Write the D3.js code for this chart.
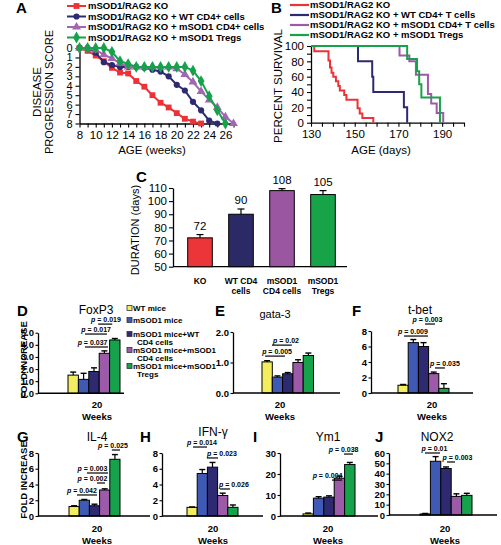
<!DOCTYPE html>
<html><head><meta charset="utf-8">
<script src="https://cdn.jsdelivr.net/npm/d3@7"></script>
<style>
body{margin:0;background:#fff}
svg{display:block}
text{font-family:"Liberation Sans",Arial,sans-serif;fill:#000}
</style>
</head><body>
<svg id="chart" width="501" height="545"></svg>
<script>
// ---------------- DATA ----------------
// Panel A: disease progression score by age (weeks)
const seriesNamesA = ["mSOD1/RAG2 KO","mSOD1/RAG2 KO + WT CD4+ cells","mSOD1/RAG2 KO + mSOD1 CD4+ cells","mSOD1/RAG2 KO + mSOD1 Tregs"];
const weeksKO   = [8,9,10,11,12,13,14,15,16,17,18,19,20,21,22,23];
const scoreKO   = [0,0.3,0.8,1.4,2.1,2.6,2.7,3.5,4.1,5.0,5.8,6.3,6.9,7.5,7.8,8];
const weeksWT   = [8,9,10,11,12,13,14,15,16,17,18,19,20,21,22,23,24,25];
const scoreWT   = [0,0,0.5,1.5,1.8,2,2,2,2.1,2.3,2.5,3.0,3.9,4.5,5.7,6.6,7.7,8];
const weeksCD4  = [8,9,10,11,12,13,14,15,16,17,18,19,20,21,22,23,24,25,26,27];
const scoreCD4  = [0,0,0.2,0.7,1.1,1.6,2,2,2,2,2,2,2.2,2.8,3.6,4.6,5.5,6.3,7.3,8];
const weeksTreg = [8,9,10,11,12,13,14,15,16,17,18,19,20,21,22,23,24,25,26];
const scoreTreg = [0,0,0,0,0.4,1.4,1.7,2,2,2,2,2,2,2,2.4,3.5,5.1,6.6,8];
const ticksAx = [8,10,12,14,16,18,20,22,24,26];
const ticksAy = [0,1,2,3,4,5,6,7,8];

// Panel B: Kaplan-Meier survival (event day, % surviving after)
const seriesNamesB = ["mSOD1/RAG2 KO","mSOD1/RAG2 KO + WT CD4+ T cells","mSOD1/RAG2 KO + mSOD1 CD4+ T cells","mSOD1/RAG2 KO + mSOD1 Tregs"];
const survDaysKO   = [131.5,138,138.7,139.4,140.2,141.4,142.5,143.2,145.2,146.2,151.3,152.3,153.5,158.5];
const survPctKO    = [93,81,72,65,60,54,48,42,36,30,19,12,6,0];
const survDaysWT   = [151.5,158,158.5,172.5,174];
const survPctWT    = [80,60,40,20,0];
const survDaysCD4  = [170.5,175,178,183.5,185,187.5,190.5];
const survPctCD4   = [87.5,80,62.5,37.5,25,12.5,0];
const survDaysTreg = [174,178.5,179.5,180.5,189];
const survPctTreg  = [83,67,50,33,0];
const ticksBx = [130,150,170,190];
const ticksBy = [0,20,40,60,80,100];

// Panel C: duration (days)
const catsC  = [["KO"],["WT CD4","cells"],["mSOD1","CD4 cells"],["mSOD1","Tregs"]];
const valsC  = [72,90,108,105];
const errsC  = [2.5,4,1.5,3];
const ticksC = [50,60,70,80,90,100,110];

// Panels D-J: fold increase at 20 weeks
const groupsDJ = ["WT mice","mSOD1 mice","mSOD1 mice+WT CD4 cells","mSOD1 mice+mSOD1 CD4 cells","mSOD1 mice+mSOD1 Tregs"];
const legendLines = [["WT mice"],["mSOD1 mice"],["mSOD1 mice+WT","CD4 cells"],["mSOD1 mice+mSOD1","CD4 cells"],["mSOD1 mice+mSOD1","Tregs"]];
const foxp3Vals = [1.5,1.15,1.8,3.3,4.4],    foxp3Errs = [0.25,0.5,0.3,0.2,0.12];
const gata3Vals = [1.02,0.52,0.63,1.0,1.23], gata3Errs = [0.04,0.04,0.04,0.09,0.08];
const tbetVals  = [1.0,6.5,6.0,2.5,0.6],     tbetErrs  = [0.1,0.4,0.5,0.2,0.6];
const il4Vals   = [1.2,2.0,1.3,3.3,7.2],     il4Errs   = [0.1,0.1,0.2,0.15,0.6];
const ifngVals  = [1.1,5.4,6.2,2.6,1.1],     ifngErrs  = [0.05,0.5,0.6,0.3,0.3];
const ym1Vals   = [1.0,8.5,9.0,18,24.5],     ym1Errs   = [0.4,0.7,0.6,1,1];
const nox2Vals  = [1,52,45,18,19],           nox2Errs  = [0.5,4.5,1.5,2.5,2];
const pFoxp3 = ["0.019","0.017","0.037"];
const pGata3 = ["0.02","0.005"];
const pTbet  = ["0.003","0.009","0.035"];
const pIl4   = ["0.025","0.003","0.002","0.042"];
const pIfng  = ["0.014","0.023","0.026"];
const pYm1   = ["0.038","0.004"];
const pNox2  = ["0.01","0.003"];

// ---------------- STYLE ----------------
const col = {red:"#ec3237", navy:"#2e2a72", purple:"#9c5aa8", lav:"#a266b2", green:"#16a24b",
             yellow:"#f2ee5f", blue:"#3e5ab4", cRed:"#ec3538", cNavy:"#2c2a66", cPurple:"#9b56a2", cGreen:"#17a449"};
const barCols = [col.yellow,col.blue,col.navy,col.purple,col.green];
const SANS = '"Liberation Sans",Arial,sans-serif';
const SERIF = '"Liberation Serif","Times New Roman",serif';

const svg = d3.select("#chart");

function styleAxis(g, size, weight){
  g.selectAll("path.domain").attr("stroke","#000").attr("stroke-width",1.3);
  g.selectAll(".tick line").attr("stroke","#000").attr("stroke-width",1.1);
  g.selectAll(".tick text").attr("font-family",SANS).attr("font-size",size).attr("font-weight",weight).attr("fill","#000");
  g.attr("font-family",null).attr("font-size",null);
}
function letter(x,y,t){
  svg.append("text").attr("x",x).attr("y",y).attr("font-size",15).attr("font-weight","bold").text(t);
}

// ---------------- PANEL A ----------------
(function(){
  const xA = d3.scaleLinear().domain([8,27]).range([79.5,233.5]);
  const yA = d3.scaleLinear().domain([0,8]).range([48,123.5]);
  svg.append("text").attr("transform","translate(41,92) rotate(-90)").attr("text-anchor","middle")
     .attr("font-size",11.5).text("DISEASE");
  svg.append("text").attr("transform","translate(53,92) rotate(-90)").attr("text-anchor","middle")
     .attr("font-size",11).text("PROGRESSION SCORE");
  const gy = svg.append("g").attr("transform",`translate(${xA(8)},0)`)
    .call(d3.axisLeft(yA).tickValues(ticksAy).tickSize(4).tickSizeOuter(0).tickPadding(3));
  styleAxis(gy,11,"normal");
  const gx = svg.append("g").attr("transform",`translate(0,${yA(8)})`)
    .call(d3.axisBottom(xA).tickValues(d3.range(8,28)).tickFormat(d=>ticksAx.includes(d)?d:"").tickSize(4).tickSizeOuter(0).tickPadding(3));
  styleAxis(gx,11.5,"normal");
  svg.append("text").attr("x",152).attr("y",154).attr("text-anchor","middle").attr("font-size",11.5).text("AGE (weeks)");

  const series = [
    {w:weeksKO, s:scoreKO, c:col.red, sym:d3.symbolSquare, sz:34},
    {w:weeksWT, s:scoreWT, c:col.navy, sym:d3.symbolCircle, sz:30},
    {w:weeksCD4, s:scoreCD4, c:col.lav, sym:d3.symbolTriangle, sz:34},
    {w:weeksTreg, s:scoreTreg, c:col.green, sym:d3.symbolDiamond, sz:40}
  ];
  const line = d3.line().x(d=>xA(d[0])).y(d=>yA(d[1]));
  series.forEach(se=>{
    const pts = se.w.map((w,i)=>[w,se.s[i]]);
    svg.append("path").attr("d",line(pts)).attr("fill","none").attr("stroke",se.c).attr("stroke-width",2);
    svg.selectAll(null).data(pts).enter().append("path")
      .attr("transform",d=>`translate(${xA(d[0])},${yA(d[1])})`)
      .attr("d",d3.symbol(se.sym,se.sz)()).attr("fill",se.c);
  });
  const rows=[6,16.5,27,37.5];
  series.forEach((se,i)=>{
    svg.append("line").attr("x1",67).attr("x2",86).attr("y1",rows[i]).attr("y2",rows[i]).attr("stroke",se.c).attr("stroke-width",2);
    svg.append("path").attr("transform",`translate(76.5,${rows[i]})`).attr("d",d3.symbol(se.sym,se.sz)()).attr("fill",se.c);
    svg.append("text").attr("x",88).attr("y",rows[i]).attr("dy","0.36em").attr("font-size",9.5).attr("font-weight","bold").text(seriesNamesA[i]);
  });
  letter(16,13,"A");
})();

// ---------------- PANEL B ----------------
(function(){
  const xB = d3.scaleLinear().domain([130,200]).range([311,464]);
  const yB = d3.scaleLinear().domain([0,100]).range([122.7,46]);
  svg.append("text").attr("transform","translate(282,86) rotate(-90)").attr("text-anchor","middle")
     .attr("font-size",11.5).text("PERCENT SURVIVAL");
  const gy = svg.append("g").attr("transform",`translate(${xB(130)},0)`)
    .call(d3.axisLeft(yB).tickValues(d3.range(0,101,10)).tickFormat(d=>ticksBy.includes(d)?d:"").tickSize(4).tickSizeOuter(0).tickPadding(3));
  styleAxis(gy,11.5,"normal");
  const gx = svg.append("g").attr("transform",`translate(0,${yB(0)})`)
    .call(d3.axisBottom(xB).tickValues(d3.range(130,201,5)).tickFormat(d=>ticksBx.includes(d)?d:"").tickSize(4).tickSizeOuter(0).tickPadding(3));
  styleAxis(gx,11.5,"normal");
  svg.append("text").attr("x",381).attr("y",154).attr("text-anchor","middle").attr("font-size",11.5).text("AGE (days)");
  const step = d3.line().x(d=>xB(d[0])).y(d=>yB(d[1])).curve(d3.curveStepAfter);
  const series = [
    {d:survDaysWT, p:survPctWT, c:col.navy},
    {d:survDaysCD4, p:survPctCD4, c:col.purple},
    {d:survDaysKO, p:survPctKO, c:col.red},
    {d:survDaysTreg, p:survPctTreg, c:col.green}
  ];
  series.forEach(se=>{
    const pts=[[130,100]].concat(se.d.map((d,i)=>[d,se.p[i]]));
    svg.append("path").attr("d",step(pts)).attr("fill","none").attr("stroke",se.c).attr("stroke-width",2);
  });
  const legCols=[col.red,col.navy,col.purple,col.green];
  const rows=[5,15,25,35];
  legCols.forEach((c,i)=>{
    svg.append("line").attr("x1",290).attr("x2",309).attr("y1",rows[i]).attr("y2",rows[i]).attr("stroke",c).attr("stroke-width",2.2);
    svg.append("text").attr("x",310).attr("y",rows[i]).attr("dy","0.36em").attr("font-size",9.5).attr("font-weight","bold").text(seriesNamesB[i]);
  });
  letter(271,13,"B");
})();

// ---------------- PANEL C ----------------
(function(){
  const xC = d3.scaleBand().domain(d3.range(catsC.length)).range([179.5,343.5]).paddingInner(0.4).paddingOuter(0.2);
  const yC = d3.scaleLinear().domain([50,110]).range([266.7,188]);
  const cCols=[col.cRed,col.cNavy,col.cPurple,col.cGreen];
  svg.append("text").attr("transform","translate(139,230) rotate(-90)").attr("text-anchor","middle")
     .attr("font-size",11).text("DURATION (days)");
  const gy = svg.append("g").attr("transform","translate(173,0)")
    .call(d3.axisLeft(yC).tickValues(ticksC).tickSize(4).tickSizeOuter(0).tickPadding(2));
  styleAxis(gy,11.5,"normal");
  svg.append("line").attr("x1",173).attr("x2",347).attr("y1",yC(50)).attr("y2",yC(50)).attr("stroke","#000").attr("stroke-width",1.3);
  valsC.forEach((v,i)=>{
    const x=xC(i), w=xC.bandwidth(), cx=x+w/2;
    svg.append("rect").attr("x",x).attr("y",yC(v)).attr("width",w).attr("height",yC(50)-yC(v))
      .attr("fill",cCols[i]).attr("stroke","#000").attr("stroke-width",1);
    const et=yC(v+errsC[i]);
    svg.append("line").attr("x1",cx).attr("x2",cx).attr("y1",yC(v)).attr("y2",et).attr("stroke","#000").attr("stroke-width",1.2);
    svg.append("line").attr("x1",cx-3.5).attr("x2",cx+3.5).attr("y1",et).attr("y2",et).attr("stroke","#000").attr("stroke-width",1.2);
    svg.append("text").attr("x",cx).attr("y",et-5).attr("text-anchor","middle").attr("font-size",11.5).text(v);
    catsC[i].forEach((t,k)=>{
      svg.append("text").attr("x",cx).attr("y",284+k*10).attr("text-anchor","middle").attr("font-size",8.5).attr("font-weight","bold").text(t);
    });
  });
  letter(136,182,"C");
})();

// ---------------- PANELS D-J ----------------
function barPanel(cfg){
  const x = d3.scaleBand().domain(groupsDJ).range([cfg.gx, cfg.gx+5*cfg.bw]).padding(0);
  const xi = d3.scaleLinear().domain([0,5]).range(x.range());
  const y = d3.scaleLinear().domain([0,cfg.max]).range([cfg.y0,cfg.yTop]);
  const gy = svg.append("g").attr("transform",`translate(${cfg.ax},0)`)
    .call(d3.axisLeft(y).tickValues(d3.range(0,cfg.max+0.001,cfg.step)).tickSize(2.5).tickSizeOuter(0).tickPadding(1.5));
  styleAxis(gy,9.5,"bold");
  cfg.vals.forEach((v,i)=>{
    const bx=x(groupsDJ[i]), w=x.bandwidth(), cx=bx+w/2;
    svg.append("rect").attr("x",bx).attr("y",y(v)).attr("width",w).attr("height",cfg.y0-y(v))
      .attr("fill",barCols[i]).attr("stroke","#000").attr("stroke-width",1);
    const et=y(v+cfg.errs[i]);
    svg.append("line").attr("x1",cx).attr("x2",cx).attr("y1",y(v)).attr("y2",et).attr("stroke","#000").attr("stroke-width",1.2);
    svg.append("line").attr("x1",cx-3).attr("x2",cx+3).attr("y1",et).attr("y2",et).attr("stroke","#000").attr("stroke-width",1.4);
  });
  svg.append("line").attr("x1",cfg.ax).attr("x2",cfg.axEnd).attr("y1",cfg.y0).attr("y2",cfg.y0).attr("stroke","#000").attr("stroke-width",1.4);
  cfg.p.forEach((lab,k)=>{
    const a=cfg.pl[k];
    const ly=y(a.y);
    svg.append("line").attr("x1",xi(a.a)).attr("x2",xi(a.b)).attr("y1",ly).attr("y2",ly).attr("stroke","#000").attr("stroke-width",1.2);
    const t=svg.append("text").attr("x",xi(a.tc)).attr("y",ly-2.2).attr("text-anchor","middle")
      .attr("font-family",SERIF).attr("font-size",7).attr("font-weight","bold");
    t.append("tspan").attr("font-style","italic").text("p");
    t.append("tspan").text(" = "+lab);
  });
  svg.append("text").attr("x",cfg.tx).attr("y",cfg.ty).attr("text-anchor","middle").attr("font-size",cfg.tfs||12).text(cfg.title);
  svg.append("text").attr("x",cfg.wx).attr("y",cfg.wy).attr("text-anchor","middle").attr("font-size",9.5).attr("font-weight","bold").text("20");
  svg.append("text").attr("x",cfg.wx).attr("y",cfg.wy+11.5).attr("text-anchor","middle").attr("font-size",9.5).attr("font-weight","bold").text("Weeks");
  letter(cfg.lx,cfg.ly,cfg.letter);
}

barPanel({letter:"D",lx:17,ly:316,title:"FoxP3",tx:96,ty:314,vals:foxp3Vals,errs:foxp3Errs,max:5,step:1,
  ax:38,axEnd:124,yTop:332.7,y0:393.3,gx:68,bw:10.4,wx:97,wy:408,p:pFoxp3,
  pl:[{tc:3.65,a:2.9,b:4.25,y:5.71},{tc:2.7,a:1.63,b:3.75,y:4.89},{tc:2.36,a:1.63,b:3.85,y:3.82}]});
barPanel({letter:"E",lx:215,ly:316,title:"gata-3",tfs:11,tx:275,ty:318,vals:gata3Vals,errs:gata3Errs,max:2,step:1,
  ax:233,axEnd:340,yTop:332,y0:393,gx:262,bw:10.3,wx:280,wy:408,p:pGata3,
  pl:[{tc:2.33,a:0.97,b:2.9,y:1.57},{tc:1.46,a:0.3,b:2.23,y:1.21}]});
barPanel({letter:"F",lx:352,ly:316,title:"t-bet",tx:420,ty:314,vals:tbetVals,errs:tbetErrs,max:8,step:2,
  ax:371,axEnd:473,yTop:331,y0:393,gx:398,bw:10.2,wx:432,wy:408,p:pTbet,
  pl:[{tc:2.89,a:2.65,b:3.63,y:8.9},{tc:1.47,a:0.59,b:2.94,y:7.35},{tc:4.6,a:3.63,b:4.6,y:3.23}]});
barPanel({letter:"G",lx:17,ly:442,title:"IL-4",tx:97,ty:441,vals:il4Vals,errs:il4Errs,max:8,step:2,
  ax:38,axEnd:150,yTop:453,y0:516,gx:69,bw:10.2,wx:97,wy:532,p:pIl4,
  pl:[{tc:4.31,a:4.2,b:5.0,y:8.38},{tc:2.3,a:1.76,b:3.82,y:5.46},{tc:2.3,a:2.75,b:3.53,y:4.19},{tc:1.27,a:0.78,b:2.75,y:2.67}]});
barPanel({letter:"H",lx:140,ly:442,title:"IFN-γ",tx:213,ty:436,vals:ifngVals,errs:ifngErrs,max:8,step:2,
  ax:162,axEnd:263,yTop:453,y0:516,gx:187,bw:10.2,wx:213,wy:532,p:pIfng,
  pl:[{tc:1.47,a:0.59,b:1.96,y:8.76},{tc:3.43,a:1.96,b:3.04,y:7.37},{tc:4.6,a:3.24,b:4.22,y:3.43}]});
barPanel({letter:"I",lx:253,ly:442,title:"Ym1",tx:328,ty:441,vals:ym1Vals,errs:ym1Errs,max:30,step:10,
  ax:280,axEnd:378,yTop:453,y0:516,gx:303,bw:10.4,wx:328,wy:532,p:pYm1,
  pl:[{tc:3.9,a:3.94,b:4.8,y:29.5},{tc:2.36,a:2.79,b:3.75,y:17.1}]});
barPanel({letter:"J",lx:375,ly:442,title:"NOX2",tx:437,ty:441,vals:nox2Vals,errs:nox2Errs,max:60,step:10,
  ax:389,axEnd:497,yTop:453,y0:515,gx:420,bw:10.4,wx:445,wy:532,p:pNox2,
  pl:[{tc:1.39,a:0.48,b:1.92,y:60},{tc:3.6,a:2.6,b:3.37,y:51.3}]});

// FOLD INCREASE labels
[360,480].forEach(cy=>{
  svg.append("text").attr("transform",`translate(26.5,${cy}) rotate(-90)`).attr("text-anchor","middle")
    .attr("font-size",9.5).attr("font-weight","bold").text("FOLD INCREASE");
});

// Legend for D-J
(function(){
  const rowY=[[308],[320],[334,342],[350,358],[366,374]];
  legendLines.forEach((lines,i)=>{
    svg.append("rect").attr("x",127).attr("y",rowY[i][0]-2.5).attr("width",5).attr("height",5)
      .attr("fill",barCols[i]).attr("stroke","#333").attr("stroke-width",0.8);
    lines.forEach((t,k)=>{
      svg.append("text").attr("x",k===0?133:137).attr("y",rowY[i][k]).attr("dy","0.36em")
        .attr("font-size",8).attr("font-weight","bold").text(t);
    });
  });
})();
</script>
</body></html>
